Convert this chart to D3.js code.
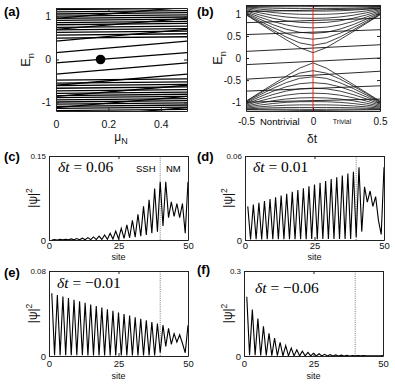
<!DOCTYPE html>
<html><head><meta charset="utf-8">
<script src="https://cdn.jsdelivr.net/npm/d3@7"></script>
<style>body{margin:0;background:#fff}</style>
</head><body><svg id="c" width="395" height="384" font-family="Liberation Sans, Arial, sans-serif"></svg>
<script>
// ---------- panel (a): E_n vs mu_N ----------
const aMu = [0, 0.5];
const aFlatStart = [0.50,0.57,0.63,0.69,0.75,0.81,0.86,0.91,0.96,1.01,1.06,1.11,1.16,
                    -0.48,-0.55,-0.61,-0.67,-0.73,-0.79,-0.84,-0.89,-0.94,-0.99,-1.04,-1.09,-1.14,-1.19];
const aFlatEnd   = [0.53,0.60,0.66,0.72,0.78,0.84,0.89,0.94,0.99,1.04,1.09,1.14,1.19,
                    -0.45,-0.52,-0.58,-0.64,-0.70,-0.76,-0.81,-0.86,-0.91,-0.96,-1.01,-1.06,-1.11,-1.16];
const aSlopeStart = [0.96,0.70,0.43,0.16,-0.08,-0.34,-0.60,-0.86,-1.12,-1.38];
const aSlopeEnd   = [1.22,0.96,0.70,0.43,0.16,-0.08,-0.34,-0.60,-0.86,-1.12];
const aDot = [0.17, 0];
const aXTicks = [0, 0.2, 0.4], aXLabels = ["0","0.2","0.4"];
const aYTicks = [-1, 0, 1], aYLabels = ["-1","0","1"];

// ---------- panel (b): E_n vs delta t ----------
const bDt = [-0.5,-0.4,-0.3,-0.2,-0.1,0,0.1,0.2,0.3,0.4,0.5];
const bUpper = [
 [1.172,1.175,1.178,1.182,1.187,1.191,1.187,1.182,1.178,1.175,1.172],
 [1.165,1.161,1.159,1.159,1.161,1.165,1.161,1.159,1.159,1.161,1.165],
 [1.152,1.138,1.127,1.121,1.120,1.122,1.120,1.121,1.127,1.138,1.152],
 [1.135,1.106,1.084,1.069,1.062,1.063,1.062,1.069,1.084,1.106,1.135],
 [1.114,1.067,1.030,1.004,0.990,0.988,0.990,1.004,1.030,1.067,1.114],
 [1.092,1.024,0.968,0.928,0.904,0.898,0.904,0.928,0.968,1.024,1.092],
 [1.068,0.976,0.900,0.841,0.806,0.796,0.806,0.841,0.900,0.976,1.068],
 [1.044,0.928,0.828,0.748,0.698,0.682,0.698,0.748,0.828,0.928,1.044],
 [1.022,0.882,0.756,0.652,0.582,0.558,0.582,0.652,0.756,0.882,1.022],
 [1.002,0.841,0.690,0.558,0.461,0.426,0.461,0.558,0.690,0.841,1.002],
 [0.988,0.808,0.635,0.474,0.343,0.287,0.343,0.474,0.635,0.808,0.988],
 [0.978,0.787,0.598,0.413,0.235,0.120,0.235,0.413,0.598,0.787,0.978]];
const bLower = [
 [-1.172,-1.175,-1.178,-1.182,-1.187,-1.191,-1.187,-1.182,-1.178,-1.175,-1.172],
 [-1.165,-1.161,-1.159,-1.159,-1.161,-1.165,-1.161,-1.159,-1.159,-1.161,-1.165],
 [-1.152,-1.138,-1.127,-1.121,-1.120,-1.122,-1.120,-1.121,-1.127,-1.138,-1.152],
 [-1.135,-1.106,-1.084,-1.069,-1.062,-1.063,-1.062,-1.069,-1.084,-1.106,-1.135],
 [-1.114,-1.067,-1.030,-1.004,-0.990,-0.988,-0.990,-1.004,-1.030,-1.067,-1.114],
 [-1.092,-1.024,-0.968,-0.928,-0.904,-0.898,-0.904,-0.928,-0.968,-1.024,-1.092],
 [-1.068,-0.976,-0.900,-0.841,-0.806,-0.796,-0.806,-0.841,-0.900,-0.976,-1.068],
 [-1.044,-0.928,-0.828,-0.748,-0.698,-0.682,-0.698,-0.748,-0.828,-0.928,-1.044],
 [-1.022,-0.882,-0.756,-0.652,-0.582,-0.558,-0.582,-0.652,-0.756,-0.882,-1.022],
 [-1.002,-0.841,-0.690,-0.558,-0.461,-0.426,-0.461,-0.558,-0.690,-0.841,-1.002],
 [-0.988,-0.808,-0.635,-0.474,-0.343,-0.287,-0.343,-0.474,-0.635,-0.808,-0.988],
 [-0.978,-0.787,-0.598,-0.413,-0.230,-0.110,-0.230,-0.413,-0.598,-0.787,-0.978]];
const bNMLeft  = [1.05, 0.80, 0.53, 0.15, -0.15, -0.48, -0.75, -1.00];
const bNMRight = [1.12, 0.90, 0.64, 0.30,  0.00, -0.30, -0.63, -0.93];
const bXTicks = [-0.5, 0, 0.5], bXLabels = ["-0.5","0","0.5"];
const bYTicks = [-1,-0.5,0,0.5,1], bYLabels = ["-1","-0.5","0","0.5","1"];

// ---------- panels (c)-(f): |psi|^2 vs site ----------
const sites = d3.range(1, 51);
const cPsi = [0.0001,0.0008,0.0001,0.0011,0.0002,0.0014,0.0002,0.0019,0.0003,0.0025,
 0.0004,0.0032,0.0005,0.0042,0.0006,0.0055,0.0008,0.0070,0.0010,0.0090,
 0.0013,0.0120,0.0017,0.0160,0.0022,0.0210,0.0030,0.0270,0.0040,0.0350,
 0.0050,0.0460,0.0070,0.0600,0.0090,0.0720,0.0120,0.0920,0.0150,0.1040,
 0.0250,0.1040,0.0400,0.0680,0.0420,0.0650,0.0400,0.0650,0.0120,0.1040];
const dPsi = [0.0240,0.0004,0.0253,0.0005,0.0266,0.0004,0.0279,0.0005,0.0292,0.0005,
 0.0305,0.0005,0.0318,0.0006,0.0331,0.0005,0.0344,0.0006,0.0357,0.0006,
 0.0370,0.0006,0.0383,0.0007,0.0396,0.0006,0.0409,0.0007,0.0422,0.0007,
 0.0435,0.0007,0.0448,0.0008,0.0461,0.0008,0.0474,0.0008,0.0487,0.0020,
 0.0520,0.0060,0.0380,0.0270,0.0350,0.0240,0.0310,0.0140,0.0040,0.0520];
const ePsi = [0.0590,0.0008,0.0575,0.0008,0.0560,0.0007,0.0545,0.0007,0.0530,0.0007,
 0.0515,0.0007,0.0500,0.0006,0.0485,0.0006,0.0470,0.0006,0.0455,0.0006,
 0.0440,0.0005,0.0425,0.0005,0.0410,0.0005,0.0395,0.0005,0.0380,0.0004,
 0.0365,0.0004,0.0350,0.0004,0.0335,0.0004,0.0320,0.0004,0.0305,0.0030,
 0.0290,0.0090,0.0260,0.0110,0.0210,0.0130,0.0200,0.0120,0.0030,0.0290];
const fPsi = [0.2090,0.0030,0.1640,0.0025,0.1320,0.0020,0.1050,0.0016,0.0800,0.0013,
 0.0630,0.0010,0.0480,0.0008,0.0370,0.0006,0.0280,0.0005,0.0220,0.0004,
 0.0170,0.0003,0.0130,0.0002,0.0100,0.0002,0.0080,0.0001,0.0060,0.0001,
 0.0048,0.0001,0.0037,0.0001,0.0029,0.0001,0.0023,0.0001,0.0018,0.0005,
 0.0014,0.0005,0.0012,0.0006,0.0011,0.0006,0.0010,0.0005,0.0003,0.0013];
const psiMax = [0.15, 0.06, 0.08, 0.3];
const psiMaxLabels = ["0.15", "0.06", "0.08", "0.3"];
const deltaLabels = ["0.06", "0.01", "\u22120.01", "\u22120.06"];
const siteTicks = [0, 25, 50], siteLabels = ["0","25","50"];
const boundarySite = 40;

// ---------- drawing ----------
const SANS = "Liberation Sans, Arial, sans-serif";
const svg = d3.select("#c");
svg.append("rect").attr("width",395).attr("height",384).attr("fill","#fff");
let clipId = 0;

function axes(x, y, o) {
  const [x0, x1] = x.range(), [yb, yt] = y.range();
  const g = svg.append("g");
  const style = s => { s.selectAll("path.domain").attr("stroke","#222").attr("stroke-width",1);
    s.selectAll(".tick line").attr("stroke","#222");
    s.selectAll("text").attr("font-family", SANS).attr("fill","#111"); };
  g.append("g").attr("transform",`translate(0,${yb})`)
    .call(d3.axisBottom(x).tickValues(o.xt).tickFormat((d,i)=>o.xl[i]).tickSizeInner(-3).tickSizeOuter(0).tickPadding(o.xp))
    .call(style).selectAll("text").attr("font-size", o.xfs);
  g.append("g").attr("transform",`translate(0,${yt})`)
    .call(d3.axisTop(x).tickValues(o.xt).tickFormat("").tickSizeInner(-3).tickSizeOuter(0)).call(style);
  const L = g.append("g").attr("transform",`translate(${x0},0)`)
    .call(d3.axisLeft(y).tickValues(o.yt).tickFormat((d,i)=>o.yl[i]).tickSizeInner(-3).tickSizeOuter(0).tickPadding(o.yp))
    .call(style);
  L.selectAll("text").attr("font-size", (d,i)=> (o.yfs2 && i===o.yt.length-1) ? o.yfs2 : o.yfs);
  g.append("g").attr("transform",`translate(${x1},0)`)
    .call(d3.axisRight(y).tickValues(o.yt).tickFormat("").tickSizeInner(-3).tickSizeOuter(0)).call(style);
}
function clipGroup(x, y) {
  const id = "clip" + (clipId++);
  const [x0, x1] = x.range(), [yb, yt] = y.range();
  svg.append("clipPath").attr("id", id).append("rect")
    .attr("x", x0).attr("y", yt).attr("width", x1 - x0).attr("height", yb - yt);
  return svg.append("g").attr("clip-path", `url(#${id})`);
}
function label(txt, x, y, size, bold) {
  svg.append("text").attr("x", x).attr("y", y).attr("font-size", size).attr("font-family", SANS)
    .attr("font-weight", bold ? "bold" : "normal").attr("fill","#000").text(txt);
}
function rotLabel(x, y, main, sub, sup, size) {
  const t = svg.append("text").attr("transform", `translate(${x},${y}) rotate(-90)`)
    .attr("text-anchor","middle").attr("font-size", size).attr("font-family", SANS).attr("fill","#111");
  t.append("tspan").text(main);
  if (sub) t.append("tspan").attr("font-size", size*0.7).attr("dy", size*0.3).text(sub);
  if (sup) t.append("tspan").attr("font-size", size*0.7).attr("dy", -size*0.45).text(sup);
}

// panel (a)
{
  const x = d3.scaleLinear().domain([0, 0.5]).range([56, 187]);
  const y = d3.scaleLinear().domain([-1.2, 1.2]).range([111, 8]);
  const g = clipGroup(x, y);
  const line = d3.line().x(d => x(d[0])).y(d => y(d[1]));
  aFlatStart.forEach((s, i) => g.append("path").attr("d", line([[aMu[0], s], [aMu[1], aFlatEnd[i]]]))
    .attr("stroke","#000").attr("stroke-width",1.3).attr("fill","none"));
  aSlopeStart.forEach((s, i) => g.append("path").attr("d", line([[aMu[0], s], [aMu[1], aSlopeEnd[i]]]))
    .attr("stroke","#000").attr("stroke-width",1.3).attr("fill","none"));
  g.append("circle").attr("cx", x(aDot[0])).attr("cy", y(aDot[1])).attr("r", 4.8).attr("fill","#000");
  axes(x, y, {xt:aXTicks, xl:aXLabels, xp:10, xfs:10.5, yt:aYTicks, yl:aYLabels, yp:5, yfs:10.5});
  label("(a)", 4, 16, 13, true);
  rotLabel(30, 60, "E", "n", null, 13);
  const t = svg.append("text").attr("x", 121).attr("y", 141).attr("text-anchor","middle")
    .attr("font-size",12).attr("font-family", SANS).attr("fill","#111");
  t.append("tspan").text("\u03bc");
  t.append("tspan").attr("font-size",9).attr("dy",3).text("N");
}

// panel (b)
{
  const x = d3.scaleLinear().domain([-0.5, 0.5]).range([246, 380]);
  const y = d3.scaleLinear().domain([-1.2, 1.2]).range([111, 5]);
  const g = clipGroup(x, y);
  const line = d3.line().x((d, i) => x(bDt[i])).y(d => y(d));
  bUpper.concat(bLower).forEach(arr => g.append("path").attr("d", line(arr))
    .attr("stroke","#111").attr("stroke-width",0.8).attr("fill","none"));
  const l2 = d3.line().x(d => x(d[0])).y(d => y(d[1]));
  bNMLeft.forEach((s, i) => g.append("path").attr("d", l2([[bDt[0], s], [bDt[bDt.length-1], bNMRight[i]]]))
    .attr("stroke","#111").attr("stroke-width",0.9).attr("fill","none"));
  g.append("line").attr("x1", x(0)).attr("x2", x(0)).attr("y1", y(-1.2)).attr("y2", y(1.2))
    .attr("stroke","#e8231f").attr("stroke-width",1);
  axes(x, y, {xt:bXTicks, xl:bXLabels, xp:7, xfs:10, yt:bYTicks, yl:bYLabels, yp:5, yfs:10});
  label("(b)", 197, 16, 13, true);
  rotLabel(222, 58, "E", "n", null, 13);
  label("Nontrivial", 260, 125, 9.5, false);
  svg.append("text").attr("x", 342).attr("y", 124).attr("text-anchor","middle").attr("font-size",7)
    .attr("font-family", SANS).attr("fill","#111").text("Trivial");
  svg.append("text").attr("x", 312).attr("y", 143).attr("text-anchor","middle").attr("font-size",12)
    .attr("font-family", SANS).attr("fill","#111").text("\u03b4t");
}

// panels (c)-(f)
const psiPanels = [
  {data:cPsi, xr:[49,188], yr:[240,156], lab:"(c)", lx:4, ly:161, dx:58, dy:172, yl:37, xp:2},
  {data:dPsi, xr:[245,384], yr:[240,156], lab:"(d)", lx:197, ly:161, dx:253, dy:172, yl:232, xp:2},
  {data:ePsi, xr:[49,188], yr:[356,271], lab:"(e)", lx:4, ly:277, dx:57, dy:288, yl:37, xp:4},
  {data:fPsi, xr:[244,383], yr:[356,271], lab:"(f)", lx:197, ly:274, dx:255, dy:293, yl:232, xp:4}
];
psiPanels.forEach((p, k) => {
  const x = d3.scaleLinear().domain([0, 50]).range(p.xr);
  const y = d3.scaleLinear().domain([0, psiMax[k]]).range(p.yr);
  const g = clipGroup(x, y);
  g.append("line").attr("x1", x(boundarySite)).attr("x2", x(boundarySite)).attr("y1", y(0)).attr("y2", y(psiMax[k]))
    .attr("stroke","#555").attr("stroke-width",0.8).attr("stroke-dasharray","1,1.2");
  g.append("path").datum(p.data)
    .attr("d", d3.line().x((d, i) => x(sites[i])).y(d => y(d)))
    .attr("stroke","#000").attr("stroke-width",1.1).attr("fill","none").attr("stroke-linejoin","miter");
  axes(x, y, {xt:siteTicks, xl:siteLabels, xp:p.xp, xfs:9.5, yt:[0, psiMax[k]], yl:["0", psiMaxLabels[k]], yp:3, yfs:9.5, yfs2:8});
  label(p.lab, p.lx, p.ly, 13, true);
  rotLabel(p.yl, (p.yr[0] + p.yr[1]) / 2, "|\u03c8|", null, "2", 12);
  svg.append("text").attr("x", (p.xr[0] + p.xr[1]) / 2).attr("y", p.yr[0] + (k < 2 ? 20 : 23)).attr("text-anchor","middle")
    .attr("font-size",9).attr("font-family", SANS).attr("fill","#111").text("site");
  const t = svg.append("text").attr("x", p.dx).attr("y", p.dy).attr("font-size",15.5)
    .attr("font-family","Liberation Serif, Times New Roman, serif").attr("fill","#000");
  t.append("tspan").attr("font-style","italic").text("\u03b4t");
  t.append("tspan").text(" = " + deltaLabels[k]);
  if (k === 0) {
    label("SSH", 136, 172, 9.5, false);
    label("NM", 166, 172, 9.5, false);
  }
});
</script></body></html>
